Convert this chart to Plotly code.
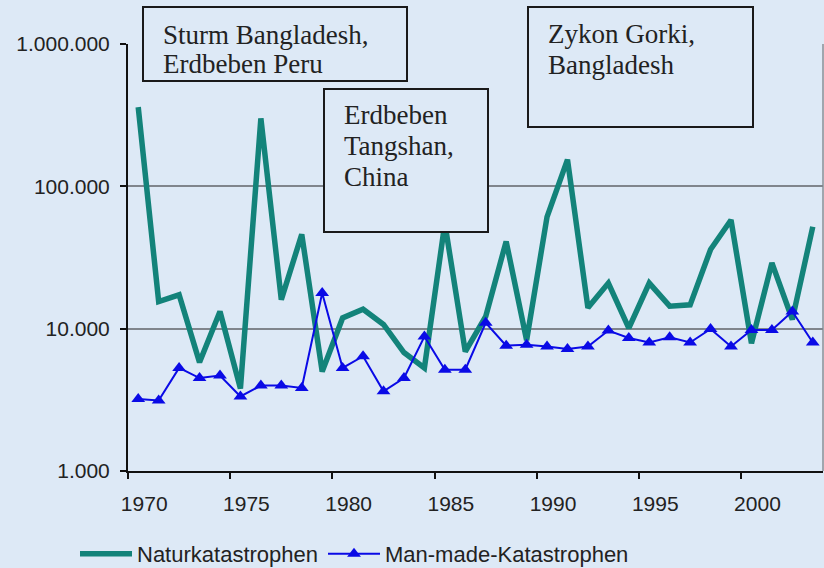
import plotly.graph_objects as go

# ---------------- data ----------------
years = [str(y) for y in range(1970, 2004)]

natur = [360000, 15500, 17300, 5800, 13200, 3800, 300000, 16000, 46000, 5000,
         11900, 13700, 10700, 6800, 5300, 55000, 6900, 12200, 41000, 8300,
         61000, 154000, 14000, 20900, 10100, 20900, 14400, 14700, 36000, 58000,
         7900, 29000, 11600, 52000]

manmade = [3200, 3130, 5300, 4500, 4680, 3340, 3980, 3980, 3830, 17800,
           5300, 6400, 3630, 4500, 8800, 5150, 5150, 11000, 7600, 7700,
           7500, 7200, 7500, 9700, 8600, 8000, 8700, 8000, 9950, 7500,
           9800, 9800, 13200, 8000]

series_names = ["Naturkatastrophen", "Man-made-Katastrophen"]

box_texts = [
    ["Sturm Bangladesh,", "Erdbeben Peru"],
    ["Erdbeben", "Tangshan,", "China"],
    ["Zykon Gorki,", "Bangladesh"],
]

# ---------------- layout helpers ----------------
W, H = 824, 568
ML, MR, MT, MB = 128, 1, 44, 97
PW, PH = W - ML - MR, H - MT - MB

def px(x):
    return (x - ML) / PW

def py(y):
    return (H - MB - y) / PH

BG = "#dde9f6"
GREEN = "#13837a"
BLUE = "#0a0ae6"

fig = go.Figure()
fig.add_trace(go.Scatter(
    x=years, y=natur, name=series_names[0], mode="lines",
    line=dict(color=GREEN, width=5.5),
))
fig.add_trace(go.Scatter(
    x=years, y=manmade, name=series_names[1], mode="lines+markers",
    line=dict(color=BLUE, width=2),
    marker=dict(symbol="triangle-up", size=12, color=BLUE),
))

# boxes (pixel rectangles) and their text
boxes = [
    dict(x0=143, x1=407, y0=7, y1=81, tx=161, lines_y=[35, 64]),
    dict(x0=324, x1=488, y0=89, y1=232, tx=342, lines_y=[115, 146, 177]),
    dict(x0=528, x1=753, y0=7, y1=127, tx=546, lines_y=[33.5, 65]),
]
shapes = []
annotations = []
for b, lines in zip(boxes, box_texts):
    shapes.append(dict(
        type="rect", xref="paper", yref="paper",
        x0=px(b["x0"]), x1=px(b["x1"]), y0=py(b["y1"]), y1=py(b["y0"]),
        line=dict(color="#1a1a1a", width=2), fillcolor=BG, layer="above",
    ))
    for txt, ly in zip(lines, b["lines_y"]):
        annotations.append(dict(
            text=txt, xref="paper", yref="paper", x=px(b["tx"]), y=py(ly),
            xanchor="left", yanchor="middle", showarrow=False,
            font=dict(family="Liberation Serif", size=27, color="#222222"),
        ))

# right border of plot area
shapes.append(dict(type="line", xref="paper", yref="paper", x0=1, x1=1, y0=0, y1=1,
                   line=dict(color="#8a8f96", width=1.5), layer="below"))

fig.update_layout(
    width=W, height=H,
    margin=dict(l=ML, r=MR, t=MT, b=MB, autoexpand=False),
    paper_bgcolor=BG, plot_bgcolor=BG,
    separators=",.",
    font=dict(family="Liberation Sans", size=20, color="#222222"),
    showlegend=True,
    legend=dict(orientation="h", x=px(75), xanchor="left", y=py(533), yanchor="top",
                font=dict(size=22, color="#222222"), bgcolor="rgba(0,0,0,0)",
                itemwidth=52, traceorder="normal"),
    shapes=shapes,
    annotations=annotations,
)
fig.update_xaxes(
    type="category", categoryorder="array", categoryarray=years,
    range=[-0.5, len(years) - 0.5],
    tickmode="linear", tick0=0, dtick=5, tickson="boundaries",
    ticks="outside", ticklen=6, tickwidth=2, tickcolor="#111111",
    showline=True, linecolor="#111111", linewidth=2,
    showgrid=False, zeroline=False, tickangle=0, automargin=False,
    tickfont=dict(size=21, color="#222222"),
    ticklabelstandoff=13, ticklabelshift=6,
)
fig.update_yaxes(
    type="log", range=[3, 6], dtick=1, tickformat=",d",
    ticks="outside", ticklen=6, tickwidth=2, tickcolor="#111111",
    showline=True, linecolor="#111111", linewidth=2,
    showgrid=True, gridcolor="#80858c", gridwidth=1.5, zeroline=False,
    automargin=False,
    tickfont=dict(size=21, color="#222222"),
    ticklabelstandoff=6,
)

fig.write_html("out.html", config={"displayModeBar": False},
               post_script="document.body.style.margin='0';document.body.style.overflow='hidden';")
